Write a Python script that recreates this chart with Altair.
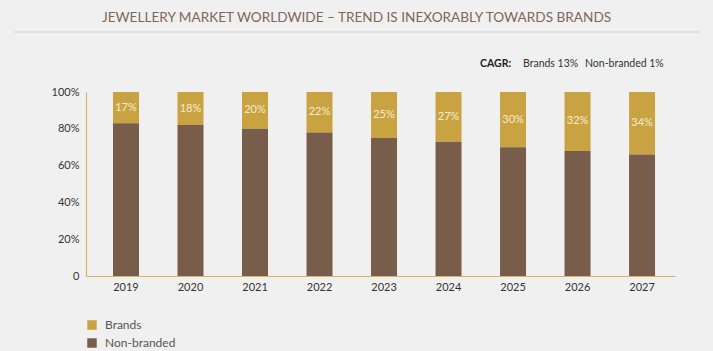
import altair as alt
import pandas as pd

years = ["2019", "2020", "2021", "2022", "2023", "2024", "2025", "2026", "2027"]
brands = [17, 18, 20, 22, 25, 27, 30, 32, 34]
series = ["Brands", "Non-branded"]
colors = ["#c9a342", "#785d4a"]
title_text = "JEWELLERY MARKET WORLDWIDE \u2013 TREND IS INEXORABLY TOWARDS BRANDS"
cagr_label = "CAGR:"
cagr_parts = ["Brands 13%", "Non-branded 1%"]
ytick_values = [0, 20, 40, 60, 80, 100]

FONT = "Lato"

rows = []
for y, b in zip(years, brands):
    rows.append({"year": y, "series": "Brands", "value": b, "ord": 1})
    rows.append({"year": y, "series": "Non-branded", "value": 100 - b, "ord": 0})
df = pd.DataFrame(rows)
lab = pd.DataFrame({"year": years, "brands": brands})

W, H = 589, 184

xscale = alt.Scale(paddingInner=0.597, paddingOuter=0.364, align=0.575)
yscale = alt.Scale(domain=[0, 100], nice=False)

xaxis = alt.Axis(labelAngle=0, ticks=False, domainColor="#d4b25e",
                 labelFontSize=11, labelColor="#333333", labelPadding=5,
                 labelFont=FONT, domainWidth=1.2, title=None)
yaxis = alt.Axis(values=ytick_values, grid=False, ticks=False,
                 domainColor="#d4b25e", domainWidth=1.2, title=None,
                 labelOverlap=False, labelBound=False, labelFlush=False,
                 labelExpr="datum.value == 0 ? '0' : datum.value + '%'",
                 labelFontSize=11, labelColor="#333333", labelPadding=7,
                 labelFont=FONT)

bars = alt.Chart(df).mark_bar().encode(
    x=alt.X("year:N", sort=years, scale=xscale, axis=xaxis, title=None),
    y=alt.Y("value:Q", stack="zero", scale=yscale, axis=yaxis, title=None),
    color=alt.Color("series:N", scale=alt.Scale(domain=series, range=colors),
                    legend=alt.Legend(title=None, orient="none", legendX=0, legendY=227,
                                      symbolType="square", symbolSize=90,
                                      symbolStrokeWidth=0, labelFontSize=12,
                                      labelColor="#555555", labelFont=FONT,
                                      rowPadding=6, labelOffset=7)),
    order=alt.Order("ord:Q", sort="ascending"),
)

labels = alt.Chart(lab).transform_calculate(
    mid="100 - datum.brands / 2",
    txt="datum.brands + '%'"
).mark_text(color="#f6ecd2", fontSize=11, font=FONT).encode(
    x=alt.X("year:N", sort=years, scale=xscale, axis=xaxis, title=None),
    y=alt.Y("mid:Q", scale=yscale, axis=yaxis, title=None),
    text="txt:N",
)

title = alt.Chart(pd.DataFrame({"t": [title_text]})).mark_text(
    fontSize=13.6, color="#7f6656", font=FONT, align="center"
).encode(x=alt.value(356.5 - 86), y=alt.value(18 - 92), text="t:N")

rule = alt.Chart(pd.DataFrame({"a": [0]})).mark_rule(color="#d8d0ca", strokeWidth=1).encode(
    x=alt.value(14 - 86), x2=alt.value(700 - 86), y=alt.value(32 - 92)
)

cagr1 = alt.Chart(pd.DataFrame({"t": [cagr_label]})).mark_text(
    fontSize=10.5, fontWeight="bold", color="#222222", font=FONT, align="left"
).encode(x=alt.value(480 - 86), y=alt.value(64 - 92), text="t:N")

cagr2 = alt.Chart(pd.DataFrame({"t": [cagr_parts[0]]})).mark_text(
    fontSize=10.5, color="#333333", font=FONT, align="left"
).encode(x=alt.value(523 - 86), y=alt.value(64 - 92), text="t:N")

cagr3 = alt.Chart(pd.DataFrame({"t": [cagr_parts[1]]})).mark_text(
    fontSize=10.5, color="#333333", font=FONT, align="left"
).encode(x=alt.value(585 - 86), y=alt.value(64 - 92), text="t:N")

chart = alt.layer(bars, labels, title, rule, cagr1, cagr2, cagr3).properties(
    width=W, height=H,
    autosize=alt.AutoSizeParams(type="none"),
    padding={"left": 86, "top": 92, "right": 38, "bottom": 75},
    background="#f0f0f0",
).configure_view(stroke=None).configure_axis(labelFont=FONT, labelOverlap=False)

chart.save("out.html", embed_options={"renderer": "svg", "actions": False})
